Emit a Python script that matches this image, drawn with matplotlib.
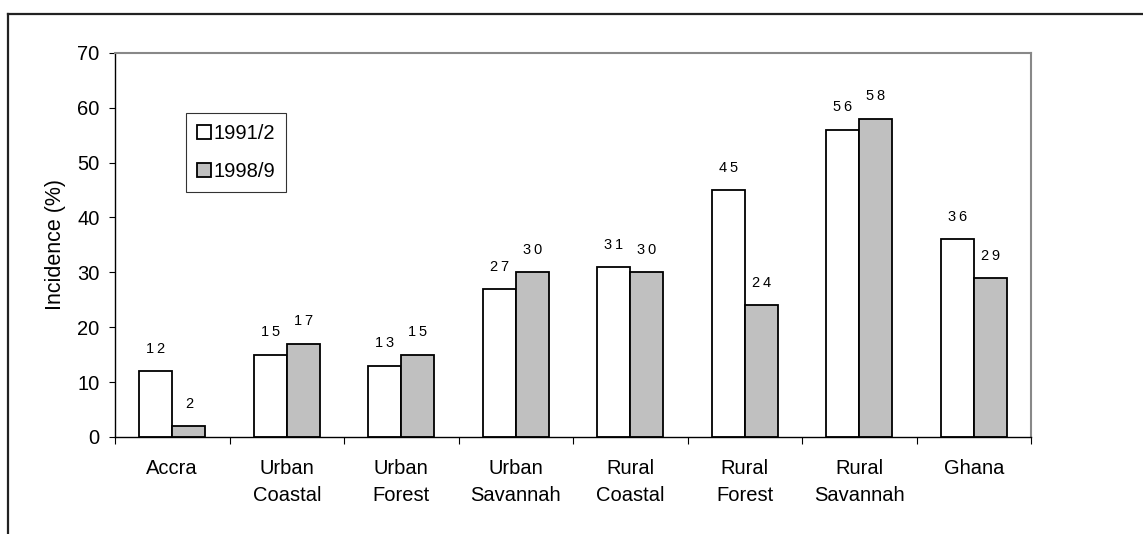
import matplotlib
matplotlib.use("Agg")
import matplotlib.pyplot as plt
from matplotlib.lines import Line2D
from matplotlib.patches import Patch
import numpy as np

plt.rcParams["font.family"] = ["Liberation Sans", "DejaVu Sans"]

categories = ["Accra", "Urban\nCoastal", "Urban\nForest", "Urban\nSavannah",
              "Rural\nCoastal", "Rural\nForest", "Rural\nSavannah", "Ghana"]
incidence_1991 = [12, 15, 13, 27, 31, 45, 56, 36]
incidence_1998 = [2, 17, 15, 30, 30, 24, 58, 29]
series_labels = ["1991/2", "1998/9"]
y_ticks = [0, 10, 20, 30, 40, 50, 60, 70]

W, H = 1143, 534
fig = plt.figure(figsize=(W / 100, H / 100), dpi=100)
ax = fig.add_axes([115 / W, 1 - 437 / H, (1031 - 115) / W, (437 - 52.7) / H])

x = np.arange(len(categories))
bw = 0.29
b1 = ax.bar(x - bw / 2, incidence_1991, bw, color="white", edgecolor="black", linewidth=1.3)
b2 = ax.bar(x + bw / 2, incidence_1998, bw, color="#c0c0c0", edgecolor="black", linewidth=1.3)

def spaced(v):
    return "\u2009".join(str(v))

for bars, vals in ((b1, incidence_1991), (b2, incidence_1998)):
    for rect, v in zip(bars, vals):
        ax.annotate(spaced(v), (rect.get_x() + rect.get_width() / 2, v),
                    xytext=(0, 16), textcoords="offset points",
                    ha="center", va="center", fontsize=10.5)

ax.set_xlim(-0.5, len(categories) - 0.5)
ax.set_ylim(0, 70)
ax.set_yticks(y_ticks)
ax.tick_params(axis="y", length=4, width=0.8, labelsize=14.5, pad=7)

ax.set_xticks(x)
ax.set_xticklabels(categories, fontsize=14.5, linespacing=1.55)
ax.tick_params(axis="x", which="major", length=0, pad=16)
ax.set_xticks(np.arange(-0.5, len(categories)), minor=True)
ax.tick_params(axis="x", which="minor", length=5, width=0.8, direction="out")

ax.set_ylabel("Incidence (%)", fontsize=15.5, labelpad=8)

for side in ("left", "bottom"):
    ax.spines[side].set_color("black")
    ax.spines[side].set_linewidth(1.0)
for side in ("top", "right"):
    ax.spines[side].set_color("#888888")
    ax.spines[side].set_linewidth(1.5)

handles = [Patch(facecolor="white", edgecolor="black", linewidth=1.3),
           Patch(facecolor="#c0c0c0", edgecolor="black", linewidth=1.3)]
leg = ax.legend(handles, series_labels, loc="upper left",
                bbox_to_anchor=((186 - 115) / 916, (437 - 113) / 384.3),
                borderaxespad=0, fontsize=14.5, handlelength=0.7, handleheight=0.7,
                handletextpad=0.12, labelspacing=0.95, borderpad=0.55,
                fancybox=False, frameon=True)
leg.get_frame().set_edgecolor("black")
leg.get_frame().set_linewidth(0.8)

# outer frame around the chart
fig.add_artist(Line2D([8 / W, 8 / W], [0, 1 - 14 / H], color="#222222", lw=1.6,
                      transform=fig.transFigure))
fig.add_artist(Line2D([8 / W, 1], [1 - 14 / H, 1 - 14 / H], color="#222222", lw=1.6,
                      transform=fig.transFigure))

fig.savefig("out.png", dpi=100)
